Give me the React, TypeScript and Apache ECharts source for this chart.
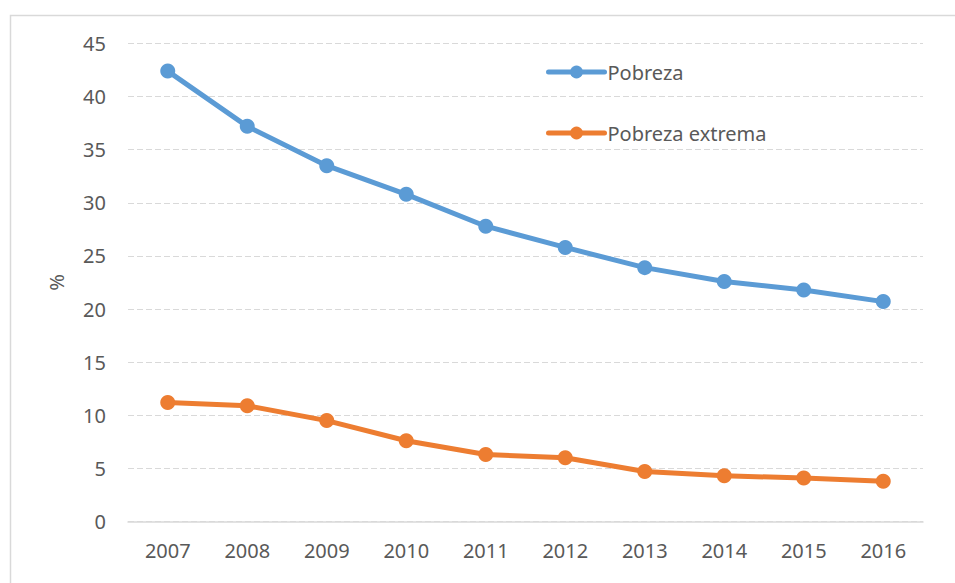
import React, { useEffect, useRef } from "react";
import * as echarts from "echarts";

const years = ["2007", "2008", "2009", "2010", "2011", "2012", "2013", "2014", "2015", "2016"];
const pobreza = [42.4, 37.2, 33.5, 30.8, 27.8, 25.8, 23.9, 22.6, 21.8, 20.7];
const pobrezaExtrema = [11.2, 10.9, 9.5, 7.6, 6.3, 6.0, 4.7, 4.3, 4.1, 3.8];

const FONT = "'Noto Sans', 'Open Sans', sans-serif";
const TXT = "#595959";

export default function App() {
  const ref = useRef<HTMLDivElement>(null);
  useEffect(() => {
    if (!ref.current) return;
    const chart = echarts.init(ref.current, undefined, { renderer: "svg" });
    chart.setOption({
      animation: false,
      backgroundColor: "#ffffff",
      textStyle: { fontFamily: FONT },
      graphic: [
        {
          type: "rect",
          shape: { x: 10.5, y: 15.5, width: 1000, height: 700 },
          style: { fill: "none", stroke: "#d9d9d9", lineWidth: 1.5 },
          silent: true,
        },
      ],
      grid: { left: 128, right: 32, top: 43.5, bottom: 61.5 },
      legend: {
        orient: "vertical",
        left: 541,
        top: 57,
        itemWidth: 56,
        itemHeight: 16,
        itemGap: 41,
        lineStyle: { width: 5, cap: "round" },
        textStyle: { color: TXT, fontSize: 20, fontFamily: FONT, padding: [0, 0, 0, -2] },
        data: ["Pobreza", "Pobreza extrema"],
      },
      xAxis: {
        type: "category",
        data: years,
        boundaryGap: true,
        axisLine: { lineStyle: { color: "#d9d9d9", width: 1.5 } },
        axisTick: { show: false },
        axisLabel: { color: TXT, fontSize: 20, margin: 19, fontFamily: FONT },
      },
      yAxis: {
        type: "value",
        min: 0,
        max: 45,
        interval: 5,
        name: "%",
        nameLocation: "middle",
        nameGap: 62,
        nameRotate: 90,
        nameTextStyle: { color: TXT, fontSize: 20, fontFamily: FONT },
        axisLine: { show: false },
        axisTick: { show: false },
        axisLabel: { color: TXT, fontSize: 20, margin: 22, fontFamily: FONT },
        splitLine: { lineStyle: { color: "#d9d9d9", type: [6, 3], width: 1.2 } },
      },
      series: [
        {
          name: "Pobreza",
          type: "line",
          data: pobreza,
          symbol: "circle",
          symbolSize: 15,
          color: "#5b9bd5",
          lineStyle: { width: 5, color: "#5b9bd5", cap: "round", join: "round" },
          itemStyle: { color: "#5b9bd5" },
        },
        {
          name: "Pobreza extrema",
          type: "line",
          data: pobrezaExtrema,
          symbol: "circle",
          symbolSize: 15,
          color: "#ed7d31",
          lineStyle: { width: 5, color: "#ed7d31", cap: "round", join: "round" },
          itemStyle: { color: "#ed7d31" },
        },
      ],
    });
    return () => chart.dispose();
  }, []);
  return (
    <div
      ref={ref}
      style={{ position: "absolute", left: 0, top: 0, width: 955, height: 583 }}
    />
  );
}
